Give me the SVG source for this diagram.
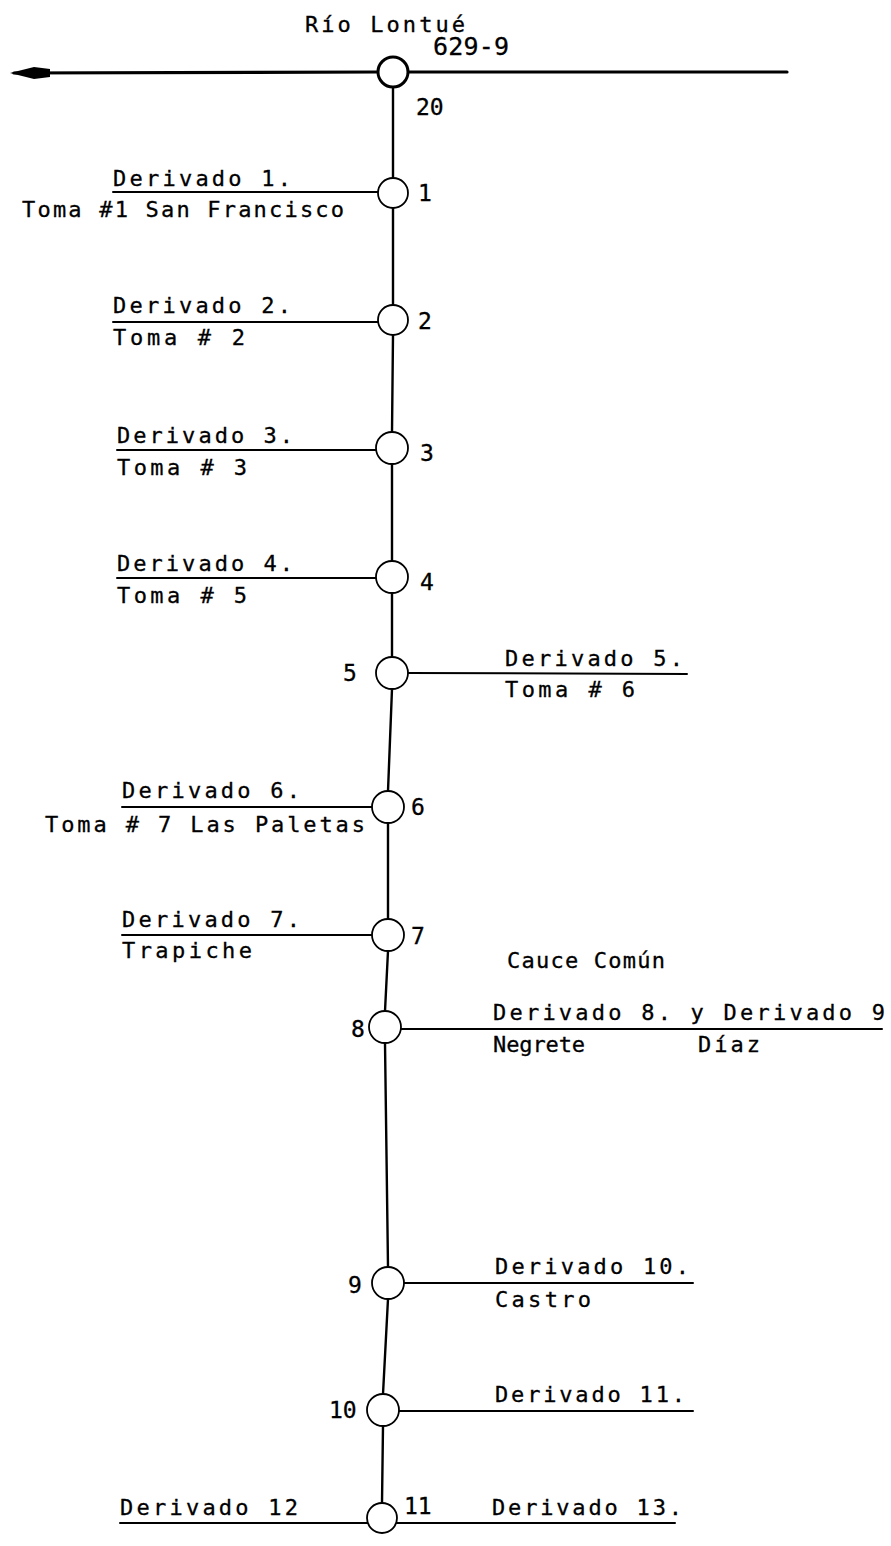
<svg xmlns="http://www.w3.org/2000/svg" width="891" height="1546" viewBox="0 0 891 1546">
<style>
text{font-family:"DejaVu Sans Mono","Liberation Mono",monospace;font-size:22px;fill:#000;stroke:#000;stroke-width:0.3}
.n text{font-size:23px}
.n circle{fill:#fff;stroke:#000;stroke-width:1.8}
.c line{stroke:#000;stroke-width:2;stroke-linecap:round}
.c .v{stroke-width:2.4}
.c .main{stroke-width:3.2}
</style>
<rect width="891" height="1546" fill="#fff"/>
<g class="c" id="connectors">
<line class="main" x1="14" y1="73" x2="378" y2="72"/>
<line class="main" x1="408" y1="72" x2="787" y2="72"/>
<polygon points="10,73 34,67 50,69 50,77 34,79" fill="#000"/>
<line class="v" x1="393" y1="87" x2="393" y2="178"/>
<line class="v" x1="393" y1="208" x2="393" y2="305"/>
<line class="v" x1="393" y1="335" x2="392" y2="432"/>
<line class="v" x1="392" y1="464" x2="392" y2="561"/>
<line class="v" x1="392" y1="593" x2="392" y2="657"/>
<line class="v" x1="392" y1="689" x2="388" y2="791"/>
<line class="v" x1="388" y1="823" x2="388" y2="919"/>
<line class="v" x1="388" y1="951" x2="385" y2="1011"/>
<line class="v" x1="385" y1="1043" x2="388" y2="1267"/>
<line class="v" x1="388" y1="1299" x2="383" y2="1394"/>
<line class="v" x1="383" y1="1426" x2="382" y2="1503"/>
<line x1="113" y1="192" x2="378" y2="192"/>
<line x1="113" y1="322" x2="378" y2="322"/>
<line x1="117" y1="450" x2="376" y2="450"/>
<line x1="117" y1="578" x2="376" y2="578"/>
<line x1="408" y1="673" x2="687" y2="674"/>
<line x1="122" y1="807" x2="372" y2="807"/>
<line x1="122" y1="935" x2="372" y2="935"/>
<line x1="401" y1="1029" x2="882" y2="1029"/>
<line x1="404" y1="1283" x2="693" y2="1283"/>
<line x1="399" y1="1411" x2="693" y2="1411"/>
<line x1="120" y1="1523" x2="368" y2="1523"/>
<line x1="396" y1="1523" x2="675" y2="1523"/>
</g>
<g class="n" id="node-20"><circle cx="393" cy="72" r="15" style="stroke-width:3"/><text x="416" y="115">20</text></g>
<g class="n" id="node-1"><circle cx="393" cy="193" r="15"/><text x="418" y="201">1</text></g>
<g class="n" id="node-2"><circle cx="393" cy="320" r="15"/><text x="418" y="329">2</text></g>
<g class="n" id="node-3"><circle cx="392" cy="448" r="16"/><text x="420" y="461">3</text></g>
<g class="n" id="node-4"><circle cx="392" cy="577" r="16"/><text x="420" y="590">4</text></g>
<g class="n" id="node-5"><circle cx="392" cy="673" r="16"/><text x="343" y="681">5</text></g>
<g class="n" id="node-6"><circle cx="388" cy="807" r="16"/><text x="411" y="815">6</text></g>
<g class="n" id="node-7"><circle cx="388" cy="935" r="16"/><text x="411" y="944">7</text></g>
<g class="n" id="node-8"><circle cx="385" cy="1027" r="16"/><text x="351" y="1037">8</text></g>
<g class="n" id="node-9"><circle cx="388" cy="1283" r="16"/><text x="348" y="1293">9</text></g>
<g class="n" id="node-10"><circle cx="383" cy="1410" r="16"/><text x="329" y="1418">10</text></g>
<g class="n" id="node-11"><circle cx="382" cy="1518" r="15"/><text x="404" y="1514">11</text></g>
<g id="labels">
<text x="305" y="32" textLength="160" lengthAdjust="spacing">Río Lontué</text>
<text x="433" y="55" textLength="76" lengthAdjust="spacing" style="font-size:25px">629-9</text>
<text x="113" y="186" textLength="178" lengthAdjust="spacing">Derivado 1.</text>
<text x="22" y="217" textLength="322" lengthAdjust="spacing">Toma #1 San Francisco</text>
<text x="113" y="313" textLength="178" lengthAdjust="spacing">Derivado 2.</text>
<text x="113" y="345" textLength="132" lengthAdjust="spacing">Toma # 2</text>
<text x="117" y="443" textLength="176" lengthAdjust="spacing">Derivado 3.</text>
<text x="117" y="475" textLength="130" lengthAdjust="spacing">Toma # 3</text>
<text x="117" y="571" textLength="176" lengthAdjust="spacing">Derivado 4.</text>
<text x="117" y="603" textLength="130" lengthAdjust="spacing">Toma # 5</text>
<text x="505" y="666" textLength="178" lengthAdjust="spacing">Derivado 5.</text>
<text x="505" y="697" textLength="130" lengthAdjust="spacing">Toma # 6</text>
<text x="122" y="798" textLength="178" lengthAdjust="spacing">Derivado 6.</text>
<text x="45" y="832" textLength="320" lengthAdjust="spacing">Toma # 7 Las Paletas</text>
<text x="122" y="927" textLength="178" lengthAdjust="spacing">Derivado 7.</text>
<text x="122" y="958" textLength="130" lengthAdjust="spacing">Trapiche</text>
<text x="507" y="968" textLength="158" lengthAdjust="spacing">Cauce Común</text>
<text x="493" y="1020" textLength="392" lengthAdjust="spacing">Derivado 8. y Derivado 9</text>
<text x="493" y="1052" textLength="92" lengthAdjust="spacing">Negrete</text>
<text x="698" y="1052" textLength="62" lengthAdjust="spacing">Díaz</text>
<text x="495" y="1274" textLength="194" lengthAdjust="spacing">Derivado 10.</text>
<text x="495" y="1307" textLength="96" lengthAdjust="spacing">Castro</text>
<text x="495" y="1402" textLength="190" lengthAdjust="spacing">Derivado 11.</text>
<text x="120" y="1515" textLength="178" lengthAdjust="spacing">Derivado 12</text>
<text x="492" y="1515" textLength="190" lengthAdjust="spacing">Derivado 13.</text>
</g>
</svg>
